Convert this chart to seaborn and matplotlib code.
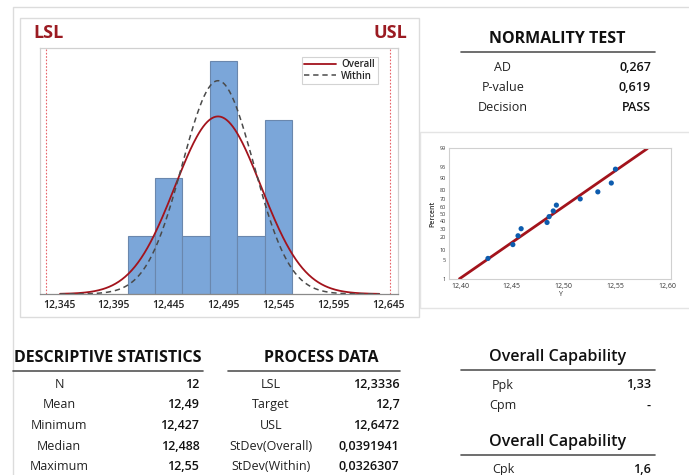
import numpy as np
import pandas as pd
import matplotlib
matplotlib.use("Agg")
import matplotlib.pyplot as plt
from matplotlib.lines import Line2D
from matplotlib.patches import Rectangle
import seaborn as sns
from statistics import NormalDist

# -------------------- data --------------------
y_values = [12.427, 12.451, 12.456, 12.459, 12.484, 12.486,
            12.490, 12.493, 12.516, 12.533, 12.546, 12.550]
bin_edges = [12.4075, 12.4325, 12.4575, 12.4825, 12.5075, 12.5325, 12.5575]
lsl = 12.3336
usl = 12.6472
mean_val = 12.49
sd_overall = 0.0391941
sd_within = 0.0326307
hist_ticks = [12.345, 12.395, 12.445, 12.495, 12.545, 12.595, 12.645]
prob_xticks = [12.40, 12.45, 12.50, 12.55, 12.60]
prob_yticks = [1, 5, 10, 20, 30, 40, 50, 60, 70, 80, 90, 95, 99]

norm_labels = ["AD", "P-value", "Decision"]
norm_values = ["0,267", "0,619", "PASS"]
desc_labels = ["N", "Mean", "Minimum", "Median", "Maximum"]
desc_values = ["12", "12,49", "12,427", "12,488", "12,55"]
proc_labels = ["LSL", "Target", "USL", "StDev(Overall)", "StDev(Within)"]
proc_values = ["12,3336", "12,7", "12,6472", "0,0391941", "0,0326307"]
cap1_labels = ["Ppk", "Cpm"]
cap1_values = ["1,33", "-"]
cap2_labels = ["Cpk"]
cap2_values = ["1,6"]

# -------------------- figure setup --------------------
sns.set_style("white")
plt.rcParams["font.family"] = ["Open Sans", "DejaVu Sans"]
W, H = 689, 475
fig = plt.figure(figsize=(W / 100, H / 100), dpi=100)

def px_axes(left, top, right, bottom):
    return fig.add_axes([left / W, 1 - bottom / H, (right - left) / W, (bottom - top) / H])

def fx(x):
    return x / W

def fy(y):
    return 1 - y / H

def hline(x0, x1, y, color="#555555", lw=1.2):
    fig.add_artist(Line2D([fx(x0), fx(x1)], [fy(y), fy(y)], color=color, lw=lw,
                          transform=fig.transFigure))

def frame(x0, y0, x1, y1, color="#dcdcdc"):
    fig.add_artist(Rectangle((fx(x0), fy(y1)), fx(x1) - fx(x0), fy(y0) - fy(y1),
                             fill=False, edgecolor=color, lw=1, transform=fig.transFigure))

def comma(v, nd):
    return f"{v:.{nd}f}".replace(".", ",")

# panel frames
frame(13, 7, 700, 480)
frame(20, 18, 419, 317)
frame(420, 132, 700, 308, color="#e4e4e4")

# -------------------- histogram --------------------
ax = px_axes(40, 48, 398, 294)
sns.histplot(x=y_values, bins=bin_edges, ax=ax, color="#7ba6d9", edgecolor="#6a87ad",
             linewidth=0.8, alpha=1)
n = len(y_values)
bw = bin_edges[1] - bin_edges[0]
xs = np.linspace(12.346, 12.637, 300)
pdf_o = n * bw * np.exp(-0.5 * ((xs - mean_val) / sd_overall) ** 2) / (sd_overall * np.sqrt(2 * np.pi))
pdf_w = n * bw * np.exp(-0.5 * ((xs - mean_val) / sd_within) ** 2) / (sd_within * np.sqrt(2 * np.pi))
ax.plot(xs, pdf_o, color="#a3131c", lw=1.3, label="Overall")
ax.plot(xs, pdf_w, color="#4a4a4a", lw=1.1, ls=(0, (3.5, 2.5)), label="Within")
ax.axvline(lsl, color="#e8646a", lw=0.8, ls=(0, (1.5, 1.5)))
ax.axvline(usl, color="#e8646a", lw=0.8, ls=(0, (1.5, 1.5)))
ax.set_xlim(12.3277, 12.6541)
ax.set_ylim(0, 4.23)
ax.set_xticks(hist_ticks)
ax.set_xticklabels([comma(t, 3) for t in hist_ticks], fontsize=7.5, fontweight="semibold",
                   color="#222222")
ax.set_yticks([])
ax.set_ylabel("")
ax.tick_params(axis="x", length=2, pad=2, color="#999999")
for s in ax.spines.values():
    s.set_color("#d0d0d0")
    s.set_linewidth(0.9)
ax.spines["bottom"].set_color("#8a8a8a")
leg = ax.legend(loc="upper right", bbox_to_anchor=(0.943, 0.964), borderaxespad=0,
                fontsize=7, frameon=True, fancybox=False, edgecolor="#c8c8c8",
                handlelength=3.2, borderpad=0.25, labelspacing=0.05, handletextpad=0.6)
leg.get_frame().set_linewidth(0.8)
for t in leg.get_texts():
    t.set_fontweight("semibold")

fig.text(fx(33), fy(33), "LSL", color="#9b1b22", fontsize=13, fontweight="bold",
         ha="left", va="center")
fig.text(fx(407), fy(33), "USL", color="#9b1b22", fontsize=13, fontweight="bold",
         ha="right", va="center")

# -------------------- probability plot --------------------
ax2 = px_axes(449.3, 148.3, 670.7, 279.3)
nd = NormalDist()
ranks = np.arange(1, n + 1)
probs = (ranks - 0.3) / (n + 0.4)
prob_df = pd.DataFrame({"Y": sorted(y_values), "z": [nd.inv_cdf(p) for p in probs]})
zlim = nd.inv_cdf(0.99)
fit_x = [mean_val - zlim * sd_overall, mean_val + zlim * sd_overall]
ax2.plot(fit_x, [-zlim, zlim], color="#a3131c", lw=2.0, solid_capstyle="butt")
sns.scatterplot(data=prob_df, x="Y", y="z", ax=ax2, color="#0d5cae", s=14, edgecolor="none",
                zorder=3)
ax2.set_xlim(12.3897, 12.6033)
ax2.set_ylim(-zlim, zlim)
ax2.set_xticks(prob_xticks)
ax2.set_xticklabels([comma(t, 2) for t in prob_xticks], fontsize=5, color="#333333")
ax2.set_yticks([nd.inv_cdf(p / 100) for p in prob_yticks])
ax2.set_yticklabels([str(p) for p in prob_yticks], fontsize=4, color="#333333")
ax2.set_xlabel("Y", fontsize=5, color="#333333", labelpad=1)
ax2.set_ylabel("Percent", fontsize=5, color="#333333", labelpad=2, fontweight="semibold")
ax2.tick_params(length=1.5, pad=1, color="#999999", width=0.5)
for s in ax2.spines.values():
    s.set_color("#d0d0d0")
    s.set_linewidth(0.8)

# -------------------- tables --------------------
def table(title, tx, ty, x0, x1, line_y, labels, values, lab_x, val_x, row0, step,
          tsize=11.5, tweight="bold"):
    fig.text(fx(tx), fy(ty), title, fontsize=tsize, fontweight=tweight, color="#111111",
             ha="center", va="center")
    hline(x0, x1, line_y)
    for i, (lab, val) in enumerate(zip(labels, values)):
        y = row0 + i * step
        fig.text(fx(lab_x), fy(y), lab, fontsize=9, color="#222222", ha="center", va="center")
        fig.text(fx(val_x), fy(y), val, fontsize=9, fontweight="semibold", color="#111111",
                 ha="right", va="center")

table("NORMALITY TEST", 557.5, 39.3, 460.7, 655, 52.3, norm_labels, norm_values,
      503, 651, 67.7, 19.8)
table("DESCRIPTIVE STATISTICS", 107.5, 358.3, 12.7, 203, 370.7, desc_labels, desc_values,
      59, 199.3, 384.3, 20.6)
table("PROCESS DATA", 320.8, 358.3, 227.7, 400, 370.7, proc_labels, proc_values,
      271, 399.3, 384.3, 20.6)
table("Overall Capability", 557.8, 356.7, 460.7, 655, 370, cap1_labels, cap1_values,
      503, 651, 385, 20, tsize=11.5, tweight="semibold")
table("Overall Capability", 557.8, 441.7, 460.7, 655, 455, cap2_labels, cap2_values,
      503, 651, 469.3, 20, tsize=11.5, tweight="semibold")

fig.savefig("out.png", dpi=100)
